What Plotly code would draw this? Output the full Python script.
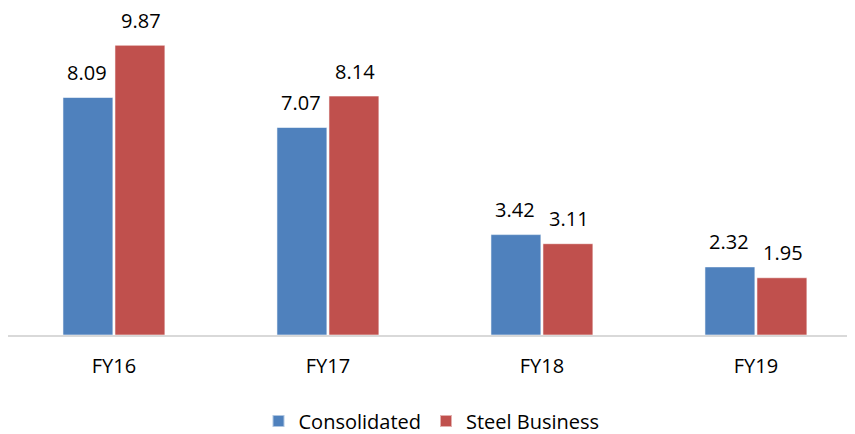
import plotly.graph_objects as go

categories = ["FY16", "FY17", "FY18", "FY19"]
consolidated = [8.09, 7.07, 3.42, 2.32]
steel_business = [9.87, 8.14, 3.11, 1.95]
series_names = ["Consolidated", "Steel Business"]
colors = ["#4F81BD", "#C0504D"]

FONT = "Open Sans"

fig = go.Figure()
for name, vals, col in zip(series_names, [consolidated, steel_business], colors):
    fig.add_trace(go.Bar(
        x=categories, y=vals, name=name,
        marker=dict(color=col, line=dict(color="rgba(255,255,255,0.55)", width=1)),
        hoverinfo="x+y+name",
    ))

# value labels above bars
for vals, shift in [(consolidated, -27), (steel_business, 27)]:
    for c, v in zip(categories, vals):
        fig.add_annotation(
            x=c, y=v, xref="x", yref="y", text=f"{v:.2f}", showarrow=False,
            xshift=shift, yshift=25, yanchor="middle", xanchor="center",
            font=dict(family=FONT, size=20, color="#000000"),
        )

# page body adds an 8px margin, so the figure is sized/positioned to compensate
fig.update_layout(
    width=847, height=426,
    margin=dict(l=0, r=0, t=0, b=99, autoexpand=False),
    paper_bgcolor="white", plot_bgcolor="white",
    barmode="group", bargap=0.514, bargroupgap=0.04,
    showlegend=True,
    legend=dict(orientation="h", x=0.5, xanchor="center",
                yref="container", y=0.0305, yanchor="middle",
                font=dict(family=FONT, size=20, color="#000000"),
                itemsizing="constant", traceorder="normal"),
    xaxis=dict(range=[-0.495, 3.463], showgrid=False, showline=True,
               linecolor="#D9D9D9", linewidth=1.5, ticks="", zeroline=False,
               tickfont=dict(family=FONT, size=20, color="#000000"),
               ticklabelstandoff=12, fixedrange=True, automargin=False),
    yaxis=dict(range=[0, 11.14], showgrid=False, showticklabels=False,
               zeroline=False, showline=False, fixedrange=True, automargin=False),
)

fig.write_html("out.html")
